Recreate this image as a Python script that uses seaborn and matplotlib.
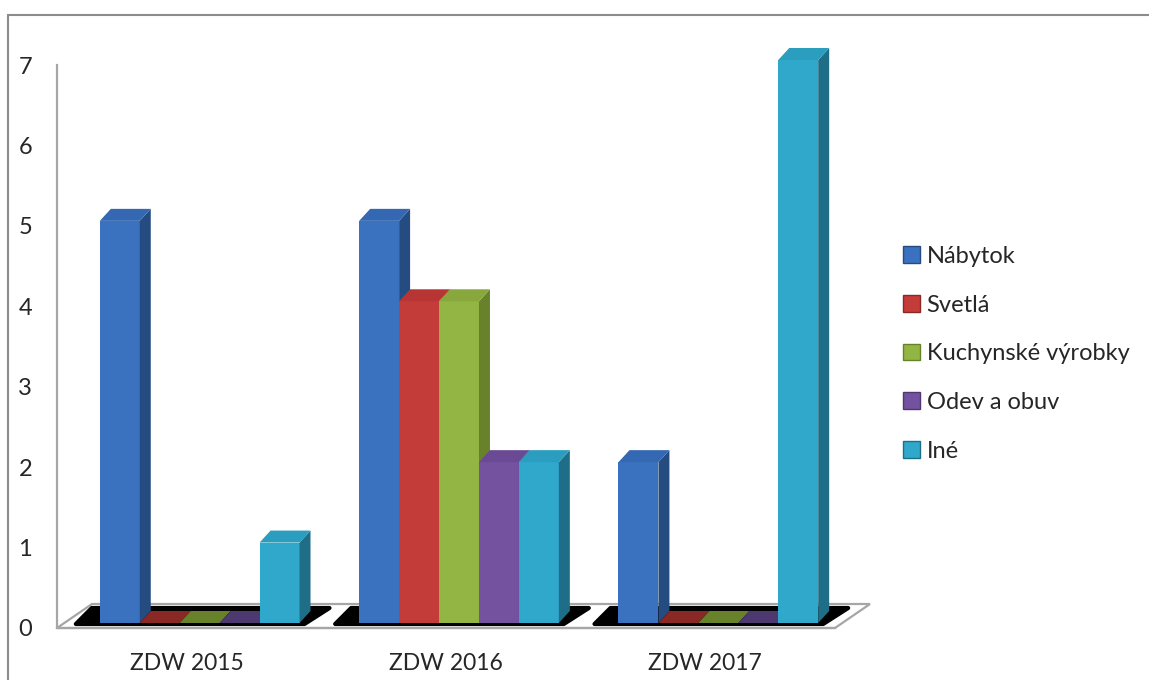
import numpy as np
import pandas as pd
import seaborn as sns
import matplotlib.pyplot as plt
from matplotlib.colors import to_rgb
from matplotlib.patches import Polygon, Patch, Rectangle

# data
roky = ['ZDW 2015', 'ZDW 2016', 'ZDW 2017']
kategorie = ['Nábytok', 'Svetlá', 'Kuchynské výrobky', 'Odev a obuv', 'Iné']
nabytok = [5, 5, 2]
svetla = [0, 4, 0]
kuchynske = [0, 4, 0]
odev = [0, 2, 0]
ine = [1, 2, 7]

# colours: front, side, top
farby = ['#3A72C0', '#C43C39', '#93B543', '#7452A0', '#2FA8CB']
farby_bok = ['#244C80', '#8A2826', '#68822C', '#4E3870', '#1F6E87']
farby_vrch = ['#3568B2', '#B73633', '#88A83D', '#6A4A95', '#2B9DBE']

rows = []
for kat, vals in zip(kategorie, [nabytok, svetla, kuchynske, odev, ine]):
    for rok, v in zip(roky, vals):
        rows.append({'rok': rok, 'kategoria': kat, 'pocet': v})
df = pd.DataFrame(rows)

sns.set_style('white')
plt.rcParams['font.family'] = ['Lato', 'DejaVu Sans']
plt.rcParams['font.size'] = 17

W, H = 1149, 680
fig = plt.figure(figsize=(W / 100, H / 100), dpi=100)

# frame axes (front axis lines, ticks, labels)
axf = fig.add_axes([57 / W, (H - 628) / H, 778 / W, 563 / H])
# bar axes (shifted into the 3D floor)
ax = fig.add_axes([70 / W, (H - 623) / H, 778 / W, 563 / H])

sns.barplot(data=df, x='rok', y='pocet', hue='kategoria', order=roky,
            hue_order=kategorie, palette=farby, saturation=1, width=0.77,
            linewidth=0, legend=False, ax=ax)
ax.set_xlim(-0.5, 2.5)
ax.set_ylim(0, 7)
ax.axis('off')

gray = '#A6A6A6'
axf.set_xlim(-0.5, 2.5)
axf.set_ylim(0, 7)
axf.set_facecolor('none')
for s in ['top', 'right']:
    axf.spines[s].set_visible(False)
for s in ['left', 'bottom']:
    axf.spines[s].set_color(gray)
    axf.spines[s].set_linewidth(1.6)
axf.set_yticks(range(8))
axf.tick_params(axis='y', length=6, width=1.6, color=gray, pad=12, labelsize=17)
axf.set_xticks(range(3))
axf.set_xticklabels(roky)
axf.set_xticks([-0.5, 0.5, 1.5, 2.5], minor=True)
axf.tick_params(axis='x', which='major', length=0, pad=18, labelsize=16.5)
axf.tick_params(axis='x', which='minor', length=8, width=1.6, color=gray)
axf.set_xlabel('')
axf.set_ylabel('')
ax.set_zorder(axf.get_zorder() + 1)

# pixel -> data conversions
px_x = ax.bbox.width / 3.0
px_y = ax.bbox.height / 7.0
fx = axf.bbox.width / 3.0
fy = axf.bbox.height / 7.0

# floor outline
floor = Polygon([(-0.5, 0), (2.5, 0), (2.5 + 35 / fx, 24 / fy), (-0.5 + 35 / fx, 24 / fy)],
                closed=True, fill=False, edgecolor=gray, linewidth=1.6, clip_on=False, zorder=1)
axf.add_patch(floor)

bars = sorted([p for p in ax.patches], key=lambda p: p.get_x())

# black shadows under each group
for g in range(3):
    grp = [p for p in bars if g - 0.5 < p.get_x() + p.get_width() / 2 < g + 0.5]
    x0 = min(p.get_x() for p in grp)
    x1 = max(p.get_x() + p.get_width() for p in grp)
    shadow = Polygon([(x0 - 24 / px_x, -1 / px_y), (x1 + 5 / px_x, -1 / px_y),
                      (x1 + 30 / px_x, 15 / px_y), (x0 - 8 / px_x, 15 / px_y)],
                     closed=True, facecolor='black', edgecolor='black', linewidth=3,
                     joinstyle='round', clip_on=False, zorder=1.5)
    ax.add_patch(shadow)

dx = 11 / px_x
dy = 12 / px_y
for k, p in enumerate(bars):
    x0 = p.get_x()
    x1 = x0 + p.get_width()
    h = p.get_height()
    fc = np.array(p.get_facecolor()[:3])
    idx = int(np.argmin([np.sum((fc - np.array(to_rgb(c))) ** 2) for c in farby]))
    z = 3 + 0.1 * k
    p.set_zorder(z)
    p.set_clip_on(False)
    side = Polygon([(x1, 0), (x1, h), (x1 + dx, h + dy), (x1 + dx, dy)], closed=True,
                   facecolor=farby_bok[idx], linewidth=0, clip_on=False, zorder=z + 0.05)
    top_c = farby_vrch[idx] if h > 0 else farby_bok[idx]
    top = Polygon([(x0, h), (x1, h), (x1 + dx, h + dy), (x0 + dx, h + dy)], closed=True,
                  facecolor=top_c, linewidth=0, clip_on=False, zorder=z + 0.05)
    ax.add_patch(side)
    ax.add_patch(top)

# legend
handles = [Patch(facecolor=farby[i], edgecolor=farby_bok[i], linewidth=1) for i in range(5)]
fig.legend(handles, kategorie, loc='upper left', bbox_to_anchor=(903 / W, 1 - 246 / H),
           frameon=False, fontsize=17, handlelength=0.7, handleheight=0.7,
           handletextpad=0.3, labelspacing=1.17, borderpad=0, borderaxespad=0)

# outer border
fig.add_artist(Rectangle((8 / W, -0.05), 1.2, 1 - 15 / H + 0.05, transform=fig.transFigure,
                         fill=False, edgecolor='#8C8C8C', linewidth=1.5))

fig.savefig('out.png', dpi=100)
